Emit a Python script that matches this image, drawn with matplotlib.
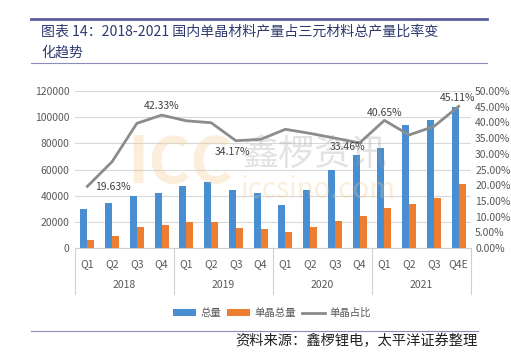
import matplotlib
matplotlib.use("Agg")
import matplotlib.pyplot as plt
import matplotlib.transforms as mtransforms
import numpy as np

plt.rcParams['font.family'] = ['Noto Sans CJK SC', 'DejaVu Sans']

quarters = ['Q1', 'Q2', 'Q3', 'Q4'] * 3 + ['Q1', 'Q2', 'Q3', 'Q4E']
years = ['2018', '2019', '2020', '2021']
total = [29500, 34700, 39600, 42000, 47600, 50100, 44300, 41800,
         32900, 44300, 60000, 71400, 76200, 94200, 98000, 108100]
mono = [5800, 9400, 15700, 17500, 19500, 20000, 15200, 14700,
        12200, 16000, 20500, 24300, 30900, 33700, 38500, 48600]
ratio = [19.63, 27.5, 39.7, 42.33, 40.5, 39.9, 34.17, 34.6,
         37.8, 36.5, 35.0, 33.46, 40.65, 36.0, 38.7, 45.11]
# labelled points: (index, text x, text y)
ratio_labels = [(0, 1.05, 19.4), (3, 3.0, 45.3), (6, 5.85, 30.5),
                (11, 10.5, 32.3), (12, 12.0, 43.0), (15, 14.96, 47.8)]

blue = '#4A8ED2'
orange = '#ED7D31'
gray = '#8C8C8C'
tick_color = '#595959'

fig = plt.figure(figsize=(5.11, 3.59), dpi=100)
fig.patch.set_facecolor('white')

# header lines and title
fig.add_artist(plt.Line2D([31/511, 487/511], [1 - 19/359] * 2, color='#5A5E9C', lw=2))
fig.add_artist(plt.Line2D([31/511, 487/511], [1 - 63/359] * 2, color='#8A8DB8', lw=0.8))
fig.text(41/511, 1 - 42.5/359, '图表 14：2018-2021 国内单晶材料产量占三元材料总产量比率变\n化趋势',
         fontsize=10.1, color='#2E3A6E', va='center', ha='left', linespacing=1.5)
fig.add_artist(plt.Line2D([31/511, 478/511], [1 - 331/359] * 2, color='#8A8DB8', lw=0.8))
fig.text(478/511, 1 - 341/359, '资料来源：鑫椤锂电，太平洋证券整理', fontsize=10.3,
         color='#222222', ha='right', va='center', style='italic')

ax = fig.add_axes([75/511, 1 - 248/359, 396/511, 157/359])
ax2 = ax.twinx()

x = np.arange(len(total))
w = 0.28
b1 = ax.bar(x - w/2, total, w, color=blue, label='总量', zorder=2)
b2 = ax.bar(x + w/2, mono, w, color=orange, label='单晶总量', zorder=2)
l1, = ax2.plot(x, ratio, color=gray, lw=2, label='单晶占比', zorder=3)

ax.set_xlim(-0.5, len(total) - 0.5)
ax.set_ylim(0, 120000)
ax.set_yticks(np.arange(0, 120001, 20000))
ax2.set_ylim(0, 50)
ax2.set_yticks(np.arange(0, 50.1, 5))
ax2.set_yticklabels([f'{v:.2f}%' for v in np.arange(0, 50.1, 5)])

ax.grid(axis='y', color='#D9D9D9', lw=0.8, zorder=0)
ax.set_axisbelow(True)
for a in (ax, ax2):
    for s in ('top', 'left', 'right', 'bottom'):
        a.spines[s].set_visible(False)
    a.tick_params(axis='y', length=0, labelsize=7.5, labelcolor=tick_color, pad=4)
ax2.tick_params(axis='y', pad=3)

ax.set_xticks(x)
ax.set_xticklabels(quarters)
ax.tick_params(axis='x', length=0, labelsize=7.5, labelcolor=tick_color, pad=8)

trans = mtransforms.blended_transform_factory(ax.transData, ax.transAxes)
ax.plot([-0.5, len(total) - 0.5], [0, 0], transform=trans, color='#D0D0D0', lw=0.8, clip_on=False)
for bnd in [-0.5, 3.5, 7.5, 11.5, 15.5]:
    ax.plot([bnd, bnd], [0, -0.29], transform=trans, color='#D0D0D0', lw=0.8, clip_on=False)
for i, yr in enumerate(years):
    ax.text(4 * i + 1.5, -0.235, yr, transform=trans, ha='center', va='center',
            fontsize=7.5, color=tick_color)

for idx, tx, ty in ratio_labels:
    ax2.text(tx, ty, f'{ratio[idx]:.2f}%', ha='center', va='center', fontsize=7.5,
             color='#404040', zorder=5)

# watermark
fig.text(180/511, 1 - 164/359, 'ICC', fontsize=46, fontweight='bold', color='#F2C98A',
         alpha=0.3, ha='center', va='center', zorder=10)
fig.text(315/511, 1 - 155/359, '鑫椤资讯', fontsize=26, color='#9A9A9A',
         alpha=0.28, ha='center', va='center', zorder=10)
fig.text(318/511, 1 - 190/359, 'iccsino.com', fontsize=20, color='#F2C98A',
         alpha=0.3, ha='center', va='center', zorder=10)

fig.legend(handles=[b1, b2, l1], loc='center', bbox_to_anchor=(272/511, 1 - 313/359),
           ncol=3, frameon=False, fontsize=7.5, handlelength=2.2, handleheight=0.6,
           columnspacing=0.6, handletextpad=0.4, labelcolor=tick_color)

fig.savefig('out.png', dpi=100, facecolor='white')
